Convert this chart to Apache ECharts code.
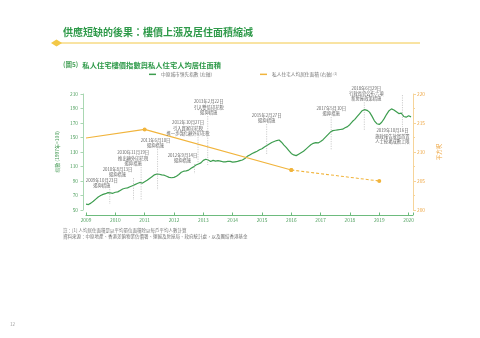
<!DOCTYPE html>
<html><head><meta charset="utf-8">
<script src="https://cdn.jsdelivr.net/npm/echarts@6/dist/echarts.min.js"></script>
<style>html,body{margin:0;padding:0;background:#fff}#c{width:480px;height:338px}</style>
</head><body><div id="c"></div>
<script>
const FONT = '"Noto Sans CJK TC","Noto Sans CJK SC",sans-serif';
const GREEN = '#3d9d4f', YELLOW = '#f1b43c';

// Centa-City Leading Index, monthly (left axis)
const ccl2009 = [58.0, 57.5, 59.5, 62, 65, 68, 70, 71.5, 72.5, 74, 73.5, 73];
const ccl2010 = [74.5, 75, 77, 79, 80, 80.5, 82, 83.5, 85, 86.5, 88, 87];
const ccl2011 = [89, 91, 93.5, 96, 98.5, 99.6, 99.3, 98.5, 98, 96.5, 95, 94.5];
const ccl2012 = [95, 96.5, 99, 102, 103.5, 104, 105, 107.5, 109.5, 112, 113.5, 115];
const ccl2013 = [118.5, 120, 119, 117, 118.5, 117.5, 118, 117.5, 116.5, 116.5, 117, 117];
const ccl2014 = [116, 116.5, 117, 118, 119, 121, 124, 126, 128, 129.5, 131, 133];
const ccl2015 = [134.5, 137, 139, 141, 143, 144.5, 145.8, 146.5, 143.5, 139.5, 136, 132];
const ccl2016 = [128, 126, 125, 127, 129, 131, 134, 137, 140, 142, 143, 142.5];
const ccl2017 = [144.5, 147, 150.5, 154, 157.5, 159.5, 160, 160.5, 161, 161.5, 163.5, 165];
const ccl2018 = [168, 172, 175, 179, 183, 187, 188.5, 187.5, 185, 179.5, 173, 169];
const ccl2019 = [168, 171, 176, 182, 187, 189.5, 188, 185.5, 183, 183.5, 179, 178];
const ccl2020 = [180, 178.5];
const cclYears = [2009, 2010, 2011, 2012, 2013, 2014, 2015, 2016, 2017, 2018, 2019, 2020];

// per-capita living space (right axis, sq ft)
const areaYears = [2009, 2011, 2016, 2019];
const areaValues = [212.4, 213.9, 206.9, 205.0];

// policy events
const eventDates = [2009.81, 2010.62, 2010.88, 2011.44, 2012.70, 2012.82, 2013.15, 2015.16, 2017.36, 2018.49, 2019.79];
const eventTexts = [
  '2009年10月23日\n遏抑措施',
  '2010年8月13日\n遏抑措施',
  '2010年11月19日\n推出額外印花稅\n遏抑措施',
  '2011年6月10日\n遏抑措施',
  '2012年9月14日\n遏抑措施',
  '2012年10月27日\n引入買家印花稅\n進一步強化額外印花稅',
  '2013年2月22日\n引入雙倍印花稅\n遏抑措施',
  '2015年2月27日\n遏抑措施',
  '2017年5月10日\n遏抑措施',
  '2018年6月29日\n行政長官公布六項\n新房屋政策措施',
  '2019年10月16日\n施政報告放寬首置\n人士按揭成數上限'
];
// layout: [label edge (left-axis value), dash end (left-axis value), dx px, placement]
const eventLayout = [
  [80.3, 58.3, -8, 'above'],
  [95.5, 63.8, -16, 'above'],
  [110.7, 63.8, -8, 'above'],
  [135.5, 77.6, -2, 'above'],
  [114.8, 100, -12, 'above'],
  [152, 116, -10, 'above'],
  [181, 112, 1, 'above'],
  [170, 126, 0, 'above'],
  [179.7, 133, 0, 'above'],
  [200, 160, 2, 'above'],
  [163, 208.6, -10, 'below']
];

const cclSeries = [];
const cclAll = [ccl2009, ccl2010, ccl2011, ccl2012, ccl2013, ccl2014, ccl2015, ccl2016, ccl2017, ccl2018, ccl2019, ccl2020];
cclAll.forEach((arr, yi) => arr.forEach((v, m) => cclSeries.push([cclYears[yi] + m / 12, v])));

const areaSolid = areaYears.slice(0, 3).map((y, i) => [y, areaValues[i]]);
const areaDashed = areaYears.slice(2).map((y, i) => [y, areaValues[i + 2]]);

const chart = echarts.init(document.getElementById('c'), null, {renderer: 'canvas'});
const NAME1 = '中原城市領先指數 (左軸)';
const NAME2 = '私人住宅人均居住面積 (右軸)';
chart.setOption({
  animation: false,
  textStyle: {fontFamily: FONT},
  title: [
    {text: '供應短缺的後果：樓價上漲及居住面積縮減', left: 63, top: 27, padding: 0,
     textStyle: {fontFamily: FONT, fontSize: 10, fontWeight: 'bold', color: '#2f9a4a'}},
    {text: '{a|(圖5)} {b|私人住宅樓價指數與私人住宅人均居住面積}', left: 63, top: 56, padding: 0,
     textStyle: {fontFamily: FONT, rich: {
       a: {fontFamily: FONT, fontSize: 6.5, color: '#4aa35c'},
       b: {fontFamily: FONT, fontSize: 7.3, fontWeight: 'bold', color: '#2f9a4a'}}}},
    {text: '註：[1] 人均居住面積是以平均單位面積除以每戶平均人數計算\n資料來源：中原地產、香港差餉物業估價署、運輸及房屋局、政府統計處，以及團結香港基金',
     left: 63, top: 227, padding: 0, textStyle: {fontFamily: FONT, fontSize: 4.5, lineHeight: 6, fontWeight: 'normal', color: '#777'}},
    {text: '12', left: 10, top: 322, padding: 0, textStyle: {fontFamily: FONT, fontSize: 4.5, fontWeight: 'normal', color: '#999'}}
  ],
  legend: [
    {data: [NAME1], left: 149, top: 72, padding: 0, itemWidth: 7, itemHeight: 1.5, icon: 'rect', itemGap: 3,
     textStyle: {fontFamily: FONT, fontSize: 4.7, color: '#777'}},
    {data: [NAME2], left: 260, top: 72, padding: 0, itemWidth: 7, itemHeight: 1.5, icon: 'rect', itemGap: 3,
     formatter: n => n + ' {s|[1]}',
     textStyle: {fontFamily: FONT, fontSize: 4.7, color: '#777', rich: {s: {fontSize: 3.2, color: '#777', verticalAlign: 'top'}}}}
  ],
  grid: {left: 86, right: 67, top: 94, bottom: 128, containLabel: false},
  xAxis: {
    type: 'value', min: 2009, max: 2020.15, interval: 1, offset: 5,
    axisLine: {lineStyle: {color: '#6dbb7d', width: 1}},
    axisTick: {inside: true, length: 2.5, lineStyle: {color: '#6dbb7d'}},
    axisLabel: {fontFamily: FONT, fontSize: 4.8, color: '#4a9d5a', margin: 2.5,
      formatter: v => Number.isInteger(v) ? String(v) : ''},
    splitLine: {show: false}
  },
  yAxis: [
    {type: 'value', min: 50, max: 210, interval: 20, offset: 3,
     name: '指數 (1997年=100)', nameLocation: 'middle', nameGap: 17,
     nameTextStyle: {fontFamily: FONT, fontSize: 5, color: '#4a9d5a'},
     axisLine: {show: true, lineStyle: {color: '#a9d7b2'}},
     axisTick: {show: true, length: 2.5, lineStyle: {color: '#a9d7b2'}},
     axisLabel: {fontFamily: FONT, fontSize: 4.8, color: '#4a9d5a', margin: 5},
     splitLine: {show: false}},
    {type: 'value', min: 200, max: 220, interval: 5, position: 'right', offset: 0,
     name: '平方呎', nameLocation: 'middle', nameGap: 14,
     nameTextStyle: {fontFamily: FONT, fontSize: 5.5, color: '#eea540'},
     axisLine: {show: true, lineStyle: {color: '#f6d49a'}},
     axisTick: {show: true, length: 3, lineStyle: {color: '#f6d49a'}},
     minorTick: {show: true, splitNumber: 2, length: 2, lineStyle: {color: '#f6d49a'}},
     axisLabel: {fontFamily: FONT, fontSize: 4.8, color: '#eea540', margin: 4},
     splitLine: {show: false}}
  ],
  series: [
    {name: NAME1, type: 'line', data: cclSeries, yAxisIndex: 0, showSymbol: false, symbol: 'none',
     lineStyle: {color: GREEN, width: 1.2}, itemStyle: {color: GREEN}, z: 3},
    {name: NAME2, type: 'line', data: areaSolid.map((d, i) => i === 0 ? {value: d, symbol: 'none'} : d),
     yAxisIndex: 1, symbol: 'circle', symbolSize: 4, showAllSymbol: true,
     lineStyle: {color: YELLOW, width: 1.1}, itemStyle: {color: YELLOW}, z: 4},
    {name: 'dashed', type: 'line', data: areaDashed, yAxisIndex: 1, symbol: 'circle', symbolSize: 4,
     lineStyle: {color: YELLOW, width: 1.1, type: [3, 2]}, itemStyle: {color: YELLOW}, z: 4}
  ]
});

// annotations
const gfx = [];
// header diamond line
gfx.push({type: 'line', shape: {x1: 55, y1: 43, x2: 420, y2: 43}, style: {stroke: '#f3c847', lineWidth: 1}, silent: true});
gfx.push({type: 'polygon', shape: {points: [[51, 43], [56.5, 39.5], [62, 43], [56.5, 46.5]]}, style: {fill: '#f3c847'}, silent: true});

eventDates.forEach((d, i) => {
  const [labV, endV, dx, place] = eventLayout[i];
  const px = chart.convertToPixel({xAxisIndex: 0, yAxisIndex: 0}, [d, labV]);
  const pe = chart.convertToPixel({xAxisIndex: 0, yAxisIndex: 0}, [d, endV]);
  const x = px[0];
  const dash = {stroke: '#9a9a9a', lineWidth: 0.5, lineDash: [1.2, 1.2]};
  if (place === 'above') {
    gfx.push({type: 'line', shape: {x1: x, y1: px[1] + 1, x2: x, y2: pe[1]}, style: dash, silent: true, z: 10});
    gfx.push({type: 'text', x: x + dx, y: px[1], silent: true, z: 10,
      style: {text: eventTexts[i], fill: '#666', font: '4.3px ' + FONT, lineHeight: 5.3,
        align: 'center', verticalAlign: 'bottom'}});
  } else {
    gfx.push({type: 'line', shape: {x1: x, y1: pe[1], x2: x, y2: px[1] - 1}, style: dash, silent: true, z: 10});
    gfx.push({type: 'text', x: x + dx, y: px[1], silent: true, z: 10,
      style: {text: eventTexts[i], fill: '#666', font: '4.3px ' + FONT, lineHeight: 5.3,
        align: 'center', verticalAlign: 'top'}});
  }
});
chart.setOption({graphic: gfx});
</script>
</body></html>
